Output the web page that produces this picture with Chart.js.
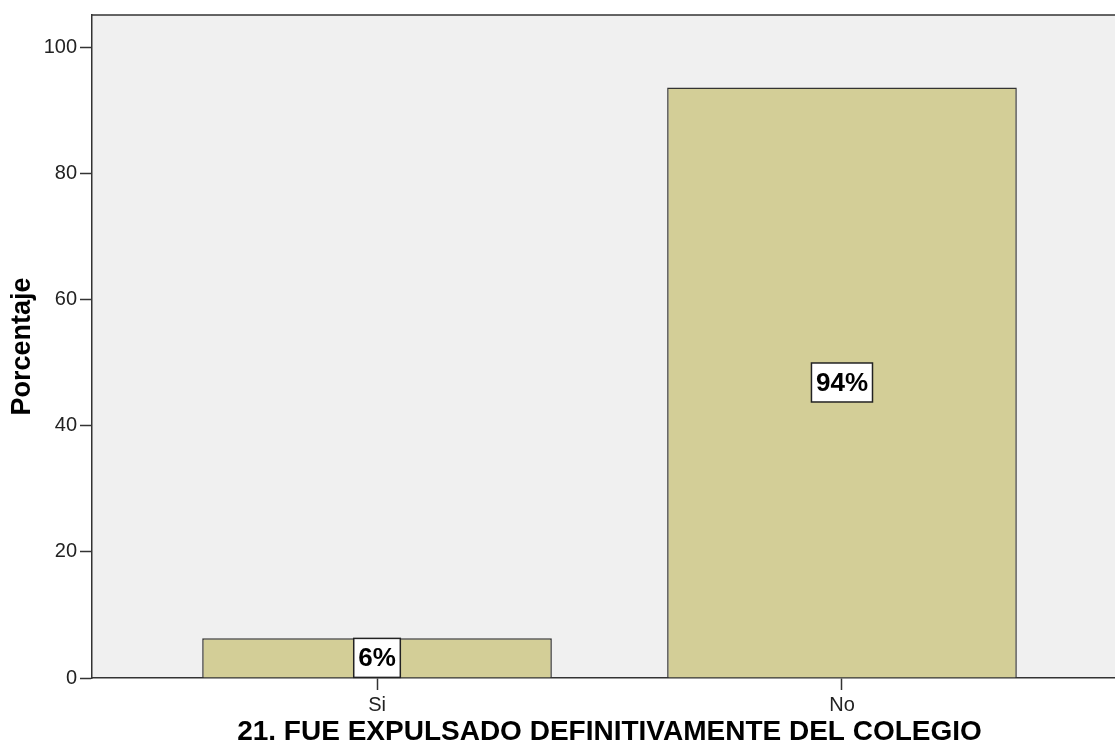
<!DOCTYPE html>
<html>
<head>
<meta charset="utf-8">
<script src="https://cdn.jsdelivr.net/npm/chart.js@4/dist/chart.umd.min.js"></script>
<style>
  html, body { margin: 0; padding: 0; background: #fff; overflow: hidden; }
  #wrap { width: 1128px; height: 751px; }
</style>
</head>
<body>
<div id="wrap"><canvas id="chart" width="1128" height="751"></canvas></div>
<script>
// datos del gráfico
const categories = ['Si', 'No'];
const percentages = [6.3, 93.7];
const pctLabels = ['6%', '94%'];
const yTicks = [0, 20, 40, 60, 80, 100];

const FONT = "'Liberation Sans', Arial, sans-serif";
Chart.defaults.font.family = FONT;
Chart.defaults.color = '#222';

// fondo gris del área de trazado y borde superior
const plotBackground = {
  id: 'plotBackground',
  beforeDraw(chart) {
    const { ctx, chartArea: a } = chart;
    ctx.save();
    ctx.fillStyle = '#f0f0f0';
    ctx.fillRect(a.left, a.top, a.right - a.left, a.bottom - a.top);
    ctx.strokeStyle = '#333';
    ctx.lineWidth = 1.5;
    ctx.beginPath();
    ctx.moveTo(a.left, a.top);
    ctx.lineTo(a.right, a.top);
    ctx.stroke();
    ctx.restore();
  }
};

// etiquetas de porcentaje en cuadro blanco
const boxLabels = {
  id: 'boxLabels',
  afterDatasetsDraw(chart) {
    const { ctx } = chart;
    const meta = chart.getDatasetMeta(0);
    ctx.save();
    ctx.font = 'bold 26px ' + FONT;
    ctx.textAlign = 'center';
    ctx.textBaseline = 'middle';
    meta.data.forEach((bar, i) => {
      const text = pctLabels[i];
      const cy = (bar.y + bar.base) / 2;
      const w = ctx.measureText(text).width + 9;
      const h = 39;
      ctx.fillStyle = '#fff';
      ctx.fillRect(bar.x - w / 2, cy - h / 2, w, h);
      ctx.strokeStyle = '#222';
      ctx.lineWidth = 1.5;
      ctx.strokeRect(bar.x - w / 2, cy - h / 2, w, h);
      ctx.fillStyle = '#000';
      ctx.fillText(text, bar.x, cy + 1);
    });
    ctx.restore();
  }
};

new Chart(document.getElementById('chart'), {
  type: 'bar',
  data: {
    datasets: [{
      data: categories.map((c, i) => ({ x: i + 1, y: percentages[i] })),
      backgroundColor: '#d3ce97',
      borderColor: '#333',
      borderWidth: 1.5,
      barPercentage: 0.94,
      categoryPercentage: 0.8
    }]
  },
  options: {
    responsive: false,
    animation: false,
    layout: { padding: { top: 15, right: 1, left: 0, bottom: 0 } },
    plugins: { legend: { display: false }, tooltip: { enabled: false } },
    scales: {
      x: {
        type: 'linear',
        offset: false,
        min: 0.387,
        max: 2.613,
        afterBuildTicks: s => { s.ticks = categories.map((c, i) => ({ value: i + 1 })); },
        afterFit: s => { s.height = 73; },
        ticks: {
          callback: v => categories[v - 1],
          font: { size: 20 },
          padding: 3,
          maxRotation: 0
        },
        grid: { offset: false, drawOnChartArea: false, tickLength: 12, color: '#333', tickWidth: 1.5 },
        border: { color: '#333', width: 1.5 },
        title: {
          display: true,
          text: '21. FUE EXPULSADO DEFINITIVAMENTE DEL COLEGIO',
          font: { size: 28, weight: 'bold' },
          color: '#000',
          padding: { top: 0, bottom: 2 }
        }
      },
      y: {
        min: 0,
        max: 105.2,
        afterBuildTicks: s => { s.ticks = yTicks.map(v => ({ value: v })); },
        afterFit: s => { s.width = 92; },
        ticks: { font: { size: 20 }, padding: 3 },
        grid: { drawOnChartArea: false, tickLength: 12, color: '#333', tickWidth: 1.5 },
        border: { color: '#333', width: 1.5 },
        title: {
          display: true,
          text: 'Porcentaje',
          font: { size: 27, weight: 'bold' },
          color: '#000',
          padding: { top: 6, bottom: 0 }
        }
      }
    }
  },
  plugins: [plotBackground, boxLabels]
});
</script>
</body>
</html>
